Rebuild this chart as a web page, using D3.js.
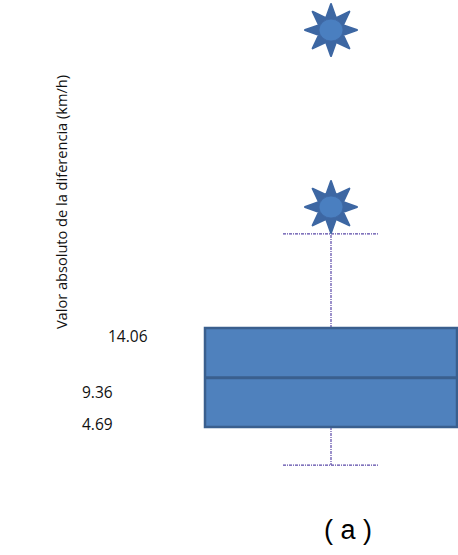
<!DOCTYPE html>
<html>
<head>
<meta charset="utf-8">
<script src="https://cdn.jsdelivr.net/npm/d3@7"></script>
<style>
  html, body { margin: 0; padding: 0; background: #fff; }
  svg { display: block; }
</style>
</head>
<body>
<svg id="chart" width="458" height="555"></svg>
<script>
// Box-plot summary (km/h)
const categories = ["a"];
const quartile1 = [4.69];
const medians = [9.36];
const quartile3 = [14.06];
const whiskerLow = [1.09];
const whiskerHigh = [22.96];
const outliers = [[25.51, 42.26]];
const statLabels = ["14.06", "9.36", "4.69"];
const statValues = [14.06, 9.36, 4.69];
const yTitle = "Valor absoluto de la diferencia (km/h)";
const caption = "( a )";

const svg = d3.select("#chart");

// Vertical scale: Q1 and Q3 pinned to the box edges
const y = d3.scaleLinear().domain([4.69, 14.06]).range([427, 328]);
const x = d3.scalePoint().domain(categories).range([331, 331]);

const boxHalf = 126;
const capHalf = 48;
const whiskerColor = "#5a48a8";

const data = categories.map((c, i) => ({
  cat: c, q1: quartile1[i], med: medians[i], q3: quartile3[i],
  lo: whiskerLow[i], hi: whiskerHigh[i], out: outliers[i]
}));

const g = svg.append("g");

// Whisker stems and caps (dash-dot)
const dash = "3,1,1,1";
data.forEach(d => {
  const cx = x(d.cat);
  g.append("line").attr("x1", cx).attr("x2", cx).attr("y1", y(d.q3)).attr("y2", y(d.hi))
    .attr("stroke", whiskerColor).attr("stroke-width", 1.2).attr("stroke-dasharray", dash);
  g.append("line").attr("x1", cx).attr("x2", cx).attr("y1", y(d.q1)).attr("y2", y(d.lo))
    .attr("stroke", whiskerColor).attr("stroke-width", 1.2).attr("stroke-dasharray", dash);
  [d.hi, d.lo].forEach(v => {
    g.append("line").attr("x1", cx - capHalf).attr("x2", cx + capHalf)
      .attr("y1", y(v)).attr("y2", y(v))
      .attr("stroke", whiskerColor).attr("stroke-width", 1.3).attr("stroke-dasharray", dash);
  });

  // Box
  g.append("rect")
    .attr("x", cx - boxHalf).attr("y", y(d.q3))
    .attr("width", boxHalf * 2).attr("height", y(d.q1) - y(d.q3))
    .attr("fill", "#4f81bd").attr("stroke", "#3a5f8e").attr("stroke-width", 2.5);
  g.append("line").attr("x1", cx - boxHalf).attr("x2", cx + boxHalf)
    .attr("y1", y(d.med)).attr("y2", y(d.med))
    .attr("stroke", "#3a5f8e").attr("stroke-width", 3);

  // Outliers drawn as eight-pointed stars with a disc
  const starPts = [];
  const rOut = 26, rIn = 13;
  for (let k = 0; k < 16; k++) {
    const a = -Math.PI / 2 + k * Math.PI / 8;
    const r = k % 2 === 0 ? rOut : rIn;
    starPts.push([r * Math.cos(a), r * Math.sin(a)]);
  }
  d.out.forEach(v => {
    const s = g.append("g").attr("transform", `translate(${cx},${y(v)})`);
    s.append("path").attr("d", d3.line()(starPts) + "Z")
      .attr("fill", "#3d67a3").attr("stroke", "#3d67a3").attr("stroke-width", 2)
      .attr("stroke-linejoin", "round");
    s.append("ellipse").attr("rx", 12).attr("ry", 11)
      .attr("fill", "#4a7fc0").attr("stroke", "#3d67a3").attr("stroke-width", 0.8);
  });
});

// Statistic labels placed beside the box
const labelX = [108, 82, 82];
const labelOffset = [8, 14, -3];
statLabels.forEach((t, i) => {
  svg.append("text")
    .attr("x", labelX[i]).attr("y", y(statValues[i]) + labelOffset[i])
    .attr("dominant-baseline", "central")
    .attr("font-family", "'Open Sans', Lato, sans-serif")
    .attr("font-size", 15.5).attr("fill", "#111")
    .text(t);
});

// Axis title
svg.append("text")
  .attr("transform", "translate(67,202) rotate(-90)")
  .attr("text-anchor", "middle")
  .attr("font-family", "'Open Sans', Lato, sans-serif")
  .attr("font-size", 14.6).attr("fill", "#111")
  .text(yTitle);

// Caption
svg.append("text")
  .attr("x", 348).attr("y", 539)
  .attr("text-anchor", "middle")
  .attr("font-family", "'Liberation Sans', Arial, sans-serif")
  .attr("font-size", 27).attr("fill", "#000")
  .text(caption);
</script>
</body>
</html>
